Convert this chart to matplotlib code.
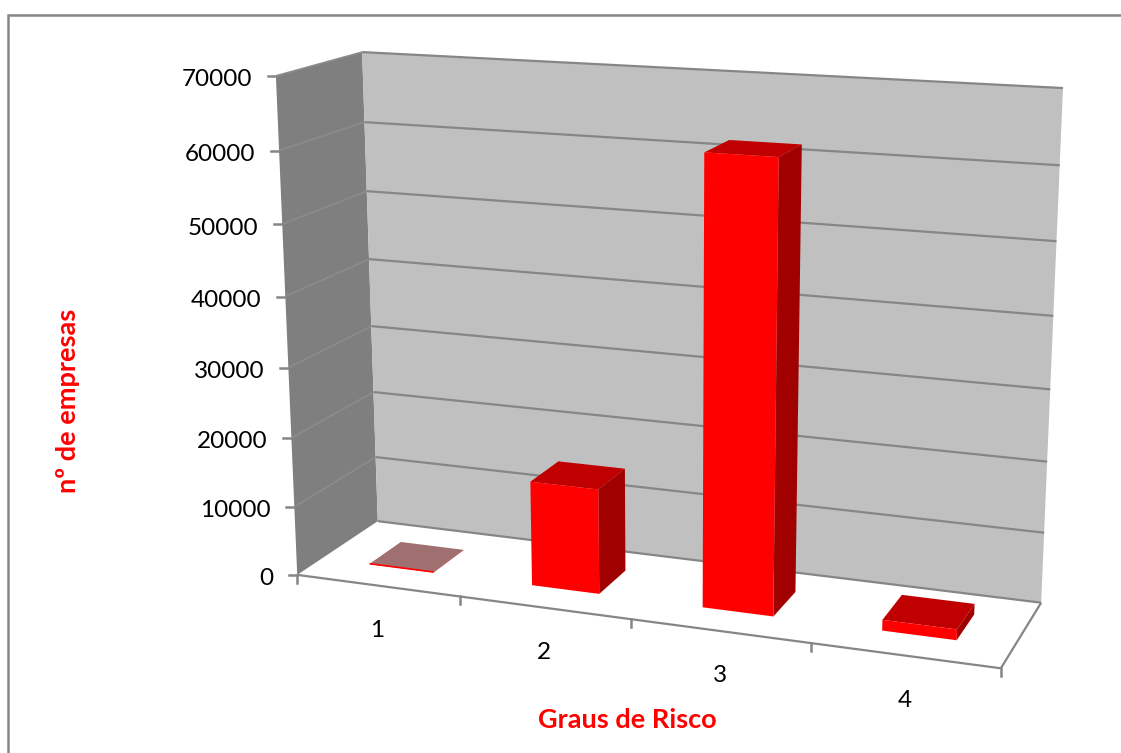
"""
Empresas por grau de risco - 3D column chart drawn with a small pinhole camera
"""
import numpy as np
import matplotlib
matplotlib.use("Agg")
import matplotlib.pyplot as plt
from matplotlib.patches import Polygon, Rectangle

plt.rcParams['font.family'] = ['Lato', 'DejaVu Sans']

categories = ['1', '2', '3', '4']
empresas = [60, 15000, 62000, 1500]
y_ticks = [0, 10000, 20000, 30000, 40000, 50000, 60000, 70000]
y_max = 70000

bar_w = 0.4    # share of a category
bar_d0 = 0.3   # front of the bars, share of floor depth
bar_d1 = 0.7

# box corners (category pos, value, depth) -> pixels, used to solve the camera
box = [(0, 0, 0), (0, y_max, 0), (0, y_max, 1), (0, 0, 1),
       (4, y_max, 1), (4, 0, 1), (4, 0, 0)]
pix = [(297, 575), (276, 76), (362, 52), (378, 521),
       (1063, 88), (1041, 603), (1001, 668)]


def solve_camera(pts, uv):
    rows = []
    for (x, y, z), (u, v) in zip(pts, uv):
        y = y / y_max
        rows.append([x, y, z, 1, 0, 0, 0, 0, -u*x, -u*y, -u*z, -u])
        rows.append([0, 0, 0, 0, x, y, z, 1, -v*x, -v*y, -v*z, -v])
    return np.linalg.svd(np.array(rows, dtype=float))[2][-1].reshape(3, 4)


P = solve_camera(box, pix)


def proj(x, y, z):
    h = P @ np.array([x, y / y_max, z, 1.0])
    return h[0] / h[2], h[1] / h[2]


fig = plt.figure(figsize=(11.21, 7.53), dpi=100)
ax = fig.add_axes([0, 0, 1, 1])
ax.set_xlim(0, 1121)
ax.set_ylim(753, 0)
ax.axis('off')

# chart frame, runs past the right and bottom edges
ax.add_patch(Rectangle((8, 15), 1130, 760, fc='white', ec='#868686', lw=1.8))


def face(pts, color, edge=None, lw=0.0, z=2):
    ax.add_patch(Polygon([proj(*p) for p in pts], closed=True, fc=color,
                         ec=edge if edge else color, lw=lw, zorder=z))


def seg(a, b, color='#868686', lw=1.6, z=3):
    pa, pb = proj(*a), proj(*b)
    ax.plot([pa[0], pb[0]], [pa[1], pb[1]], color=color, lw=lw, zorder=z,
            solid_capstyle='butt')


# walls
face([(0, 0, 0), (0, y_max, 0), (0, y_max, 1), (0, 0, 1)], '#7f7f7f')
face([(0, 0, 1), (0, y_max, 1), (4, y_max, 1), (4, 0, 1)], '#c0c0c0')

for t in y_ticks:
    seg((0, t, 1), (4, t, 1), z=3)
    if t > 0:
        seg((0, t, 0), (0, t, 1), color='#8c8c8c', lw=1.2)
    px, py = proj(0, t, 0)
    ax.plot([px - 8, px], [py, py], color='#868686', lw=1.8, zorder=3)
    ax.text(px - 24, py + 4, str(t), ha='right', va='center', fontsize=17.5,
            color='black')

# floor edges and ticks
seg((0, 0, 0), (4, 0, 0))
seg((4, 0, 0), (4, 0, 1))
for i in range(5):
    px, py = proj(i, 0, 0)
    ax.plot([px, px], [py, py + 8], color='#868686', lw=1.8, zorder=3)

for i, (c, v) in enumerate(zip(categories, empresas)):
    x0 = i + 0.5 - bar_w / 2
    x1 = i + 0.5 + bar_w / 2
    flat = v < 200
    # top, side, then front face
    top_col = '#a07070' if flat else '#c00000'
    face([(x0, v, bar_d0), (x1, v, bar_d0), (x1, v, bar_d1), (x0, v, bar_d1)],
         top_col, z=5)
    face([(x1, 0, bar_d0), (x1, v, bar_d0), (x1, v, bar_d1), (x1, 0, bar_d1)],
         '#a00000', z=5)
    face([(x0, 0, bar_d0), (x0, v, bar_d0), (x1, v, bar_d0), (x1, 0, bar_d0)],
         '#ff0000', z=6)
    if flat:
        seg((x0, v, bar_d0), (x1, v, bar_d0), color='#ff0000', lw=1.2, z=7)
    px, py = proj(i + 0.5, 0, 0)
    ax.text(px, py + 45, c, ha='center', va='center', fontsize=17.5, color='black')

# axis titles
ax.text(68, 401, 'nº de empresas', rotation=90, ha='center', va='center',
        fontsize=19.5, fontweight='bold', color='#ff0000')
ax.text(627, 720, 'Graus de Risco', ha='center', va='center',
        fontsize=19.5, fontweight='bold', color='#ff0000')

fig.savefig('out.png', dpi=100)
